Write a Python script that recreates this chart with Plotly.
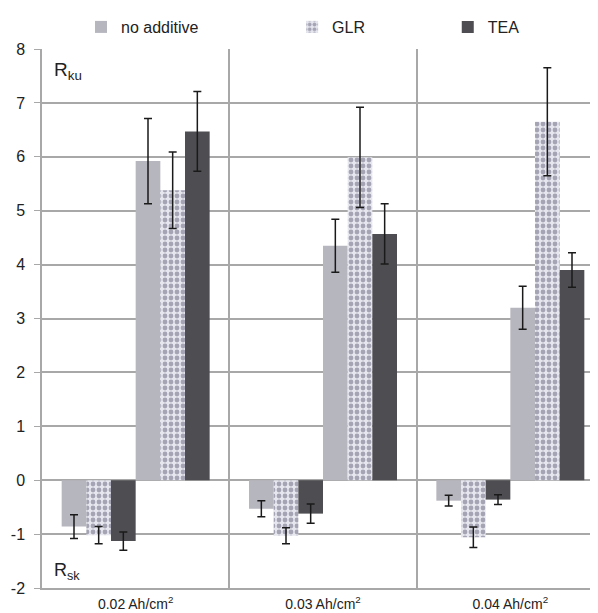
import plotly.graph_objects as go

groups = ["0.02 Ah/cm<sup>2</sup>", "0.03 Ah/cm<sup>2</sup>", "0.04 Ah/cm<sup>2</sup>"]
series = ["no additive", "GLR", "TEA"]

rsk_noadd = [-0.86, -0.53, -0.38]
rsk_glr = [-1.02, -1.03, -1.06]
rsk_tea = [-1.13, -0.62, -0.36]
rsk_noadd_err = [0.22, 0.15, 0.10]
rsk_glr_err = [0.16, 0.15, 0.19]
rsk_tea_err = [0.17, 0.18, 0.09]

rku_noadd = [5.92, 4.35, 3.20]
rku_glr = [5.38, 5.99, 6.65]
rku_tea = [6.47, 4.57, 3.90]
rku_noadd_err = [0.79, 0.49, 0.40]
rku_glr_err = [0.71, 0.93, 1.00]
rku_tea_err = [0.74, 0.56, 0.32]

y_ticks = [-2, -1, 0, 1, 2, 3, 4, 5, 6, 7, 8]
y_tick_labels = ["-2", "-1", "0", "1", "2", "3", "4", "5", "6", "7", "8"]

styles = {
    "no additive": dict(color="#b6b6be"),
    "GLR": dict(color="#dcdce6", pattern=dict(shape=".", fgcolor="#62627a", bgcolor="#e6e6ef", size=6, solidity=0.5)),
    "TEA": dict(color="#4e4e52"),
}
legend_ids = {"no additive": "legend", "GLR": "legend2", "TEA": "legend3"}

fig = go.Figure()
rsk = {"no additive": (rsk_noadd, rsk_noadd_err), "GLR": (rsk_glr, rsk_glr_err), "TEA": (rsk_tea, rsk_tea_err)}
rku = {"no additive": (rku_noadd, rku_noadd_err), "GLR": (rku_glr, rku_glr_err), "TEA": (rku_tea, rku_tea_err)}

for kind, data, show in [("Rsk", rsk, True), ("Rku", rku, False)]:
    for s in series:
        vals, errs = data[s]
        fig.add_trace(go.Bar(
            x=groups, y=vals, name=s, legendgroup=s, showlegend=show, legend=legend_ids[s],
            marker=dict(line=dict(width=0), **styles[s]),
            error_y=dict(type="data", array=errs, visible=True, color="#1a1a1a", thickness=1.5, width=4),
        ))

leg_common = dict(orientation="h", yanchor="middle", yref="paper", xanchor="left", y=1.0408,
                  font=dict(size=16), itemwidth=30, bgcolor="rgba(0,0,0,0)")

fig.update_layout(
    width=598, height=613,
    margin=dict(l=34, r=2, t=41, b=33, autoexpand=False),
    paper_bgcolor="white", plot_bgcolor="white",
    barmode="group", bargap=0.21, bargroupgap=0,
    font=dict(family="Liberation Sans, Arial, sans-serif", color="#222", size=13),
    showlegend=True,
    legend=dict(x=0.0694, **leg_common),
    legend2=dict(x=0.445, **leg_common),
    legend3=dict(x=0.722, **leg_common),
    xaxis=dict(type="category", range=[-0.5, 2.5], tickson="boundaries", showgrid=True,
               gridcolor="#a8a8a8", gridwidth=1.5, ticks="", ticklen=0, ticklabelstandoff=2,
               showline=True, linecolor="#a8a8a8", linewidth=1.5, tickfont=dict(size=14),
               automargin=False),
    yaxis=dict(range=[-2, 8], tickvals=y_ticks, ticktext=y_tick_labels, showgrid=True,
               gridcolor="#a8a8a8", gridwidth=1.5,
               zeroline=False, showline=True, linecolor="#a8a8a8", linewidth=1.5,
               ticks="outside", ticklen=6, tickcolor="#a8a8a8", tickfont=dict(size=16),
               ticklabelstandoff=6, automargin=False),
    annotations=[
        dict(text="R<sub>ku</sub>", x=0.018, y=0.985, xref="paper", yref="paper", xanchor="left", yanchor="top",
             showarrow=False, font=dict(size=19, color="#222")),
        dict(text="R<sub>sk</sub>", x=0.018, y=0.005, xref="paper", yref="paper", xanchor="left", yanchor="bottom",
             showarrow=False, font=dict(size=18, color="#222")),
    ],
)

fig.write_html("out.html")
